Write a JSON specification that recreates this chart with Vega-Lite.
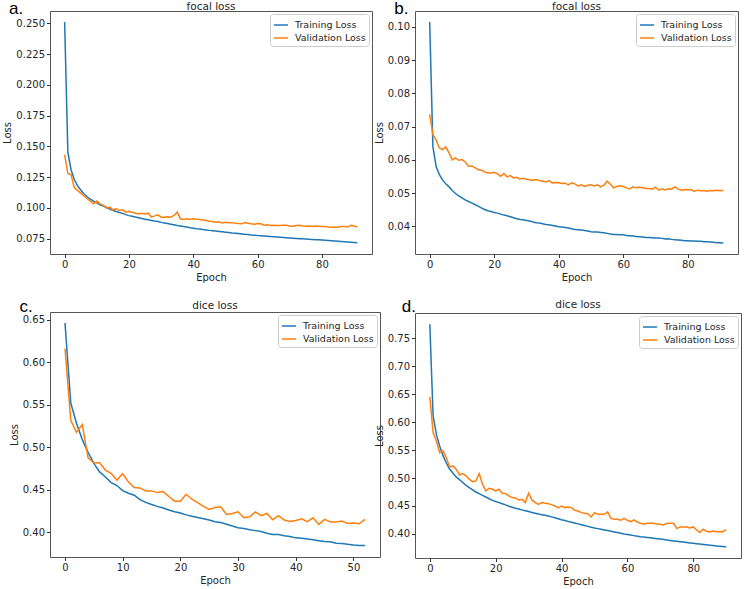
{
"$schema": "https://vega.github.io/schema/vega-lite/v6.json",
"padding": {"left": 2, "top": -1, "right": 0, "bottom": 0},
"background": "white",
"datasets": {
"a": [
{"epoch":0,"train":0.251,"val":0.1431},{"epoch":1,"train":0.145,"val":0.1279},{"epoch":2,"train":0.131,"val":0.127},{"epoch":3,"train":0.123,"val":0.1164},{"epoch":4,"train":0.118,"val":0.1142},{"epoch":5,"train":0.1145,"val":0.112},{"epoch":6,"train":0.1115,"val":0.1096},{"epoch":7,"train":0.109,"val":0.1074},{"epoch":8,"train":0.107,"val":0.1055},{"epoch":9,"train":0.1055,"val":0.1033},
{"epoch":10,"train":0.104,"val":0.1055},{"epoch":11,"train":0.1025,"val":0.1033},{"epoch":12,"train":0.1015,"val":0.102},{"epoch":13,"train":0.1005,"val":0.0998},{"epoch":14,"train":0.099,"val":0.1006},{"epoch":15,"train":0.098,"val":0.0984},{"epoch":16,"train":0.097,"val":0.0992},{"epoch":17,"train":0.0962,"val":0.0979},{"epoch":18,"train":0.0955,"val":0.0984},{"epoch":19,"train":0.0945,"val":0.0965},
{"epoch":20,"train":0.0937,"val":0.0973},{"epoch":21,"train":0.0932,"val":0.0965},{"epoch":22,"train":0.0925,"val":0.0957},{"epoch":23,"train":0.092,"val":0.0951},{"epoch":24,"train":0.0913,"val":0.0957},{"epoch":25,"train":0.0908,"val":0.0951},{"epoch":26,"train":0.0903,"val":0.0957},{"epoch":27,"train":0.0898,"val":0.0924},{"epoch":28,"train":0.0893,"val":0.0935},{"epoch":29,"train":0.0889,"val":0.0943},
{"epoch":30,"train":0.0882,"val":0.0924},{"epoch":31,"train":0.0877,"val":0.0924},{"epoch":32,"train":0.0872,"val":0.0927},{"epoch":33,"train":0.0867,"val":0.0924},{"epoch":34,"train":0.0862,"val":0.0938},{"epoch":35,"train":0.0857,"val":0.0965},{"epoch":36,"train":0.0853,"val":0.0911},{"epoch":37,"train":0.0848,"val":0.0905},{"epoch":38,"train":0.0844,"val":0.0911},{"epoch":39,"train":0.0839,"val":0.0905},
{"epoch":40,"train":0.0835,"val":0.0911},{"epoch":41,"train":0.0831,"val":0.0908},{"epoch":42,"train":0.0828,"val":0.0905},{"epoch":43,"train":0.0824,"val":0.0902},{"epoch":44,"train":0.0821,"val":0.0897},{"epoch":45,"train":0.0817,"val":0.0891},{"epoch":46,"train":0.0814,"val":0.0889},{"epoch":47,"train":0.0811,"val":0.0883},{"epoch":48,"train":0.0808,"val":0.0886},{"epoch":49,"train":0.0805,"val":0.0878},
{"epoch":50,"train":0.0802,"val":0.0883},{"epoch":51,"train":0.0799,"val":0.088},{"epoch":52,"train":0.0796,"val":0.088},{"epoch":53,"train":0.0794,"val":0.0875},{"epoch":54,"train":0.0791,"val":0.0872},{"epoch":55,"train":0.0788,"val":0.087},{"epoch":56,"train":0.0785,"val":0.088},{"epoch":57,"train":0.0783,"val":0.0875},{"epoch":58,"train":0.078,"val":0.087},{"epoch":59,"train":0.0778,"val":0.0867},
{"epoch":60,"train":0.0775,"val":0.0872},{"epoch":61,"train":0.0773,"val":0.087},{"epoch":62,"train":0.0771,"val":0.0859},{"epoch":63,"train":0.0769,"val":0.0862},{"epoch":64,"train":0.0767,"val":0.0856},{"epoch":65,"train":0.0765,"val":0.0859},{"epoch":66,"train":0.0763,"val":0.0856},{"epoch":67,"train":0.0761,"val":0.0856},{"epoch":68,"train":0.0759,"val":0.0859},{"epoch":69,"train":0.0757,"val":0.0859},
{"epoch":70,"train":0.0755,"val":0.0851},{"epoch":71,"train":0.0753,"val":0.0851},{"epoch":72,"train":0.0751,"val":0.0856},{"epoch":73,"train":0.0749,"val":0.0859},{"epoch":74,"train":0.0748,"val":0.0853},{"epoch":75,"train":0.0746,"val":0.0851},{"epoch":76,"train":0.0744,"val":0.0853},{"epoch":77,"train":0.0743,"val":0.0848},{"epoch":78,"train":0.0741,"val":0.0853},{"epoch":79,"train":0.074,"val":0.0851},
{"epoch":80,"train":0.0738,"val":0.0848},{"epoch":81,"train":0.0736,"val":0.0848},{"epoch":82,"train":0.0734,"val":0.0845},{"epoch":83,"train":0.0732,"val":0.0843},{"epoch":84,"train":0.073,"val":0.0843},{"epoch":85,"train":0.0728,"val":0.0845},{"epoch":86,"train":0.0726,"val":0.0848},{"epoch":87,"train":0.0724,"val":0.0848},{"epoch":88,"train":0.0722,"val":0.0845},{"epoch":89,"train":0.072,"val":0.0859},
{"epoch":90,"train":0.0718,"val":0.0853},{"epoch":91,"train":0.0716,"val":0.0845}
],
"b": [
{"epoch":0,"train":0.1015,"val":0.0737},{"epoch":1,"train":0.064,"val":0.0676},{"epoch":2,"train":0.058,"val":0.066},{"epoch":3,"train":0.0556,"val":0.0636},{"epoch":4,"train":0.054,"val":0.0631},{"epoch":5,"train":0.0528,"val":0.0639},{"epoch":6,"train":0.0519,"val":0.0621},{"epoch":7,"train":0.0508,"val":0.06},{"epoch":8,"train":0.0499,"val":0.0606},{"epoch":9,"train":0.0492,"val":0.0599},
{"epoch":10,"train":0.0486,"val":0.0601},{"epoch":11,"train":0.048,"val":0.0594},{"epoch":12,"train":0.0475,"val":0.0581},{"epoch":13,"train":0.0471,"val":0.0582},{"epoch":14,"train":0.0466,"val":0.0577},{"epoch":15,"train":0.0461,"val":0.0571},{"epoch":16,"train":0.0456,"val":0.0569},{"epoch":17,"train":0.0451,"val":0.0564},{"epoch":18,"train":0.0447,"val":0.0561},{"epoch":19,"train":0.0445,"val":0.0561},
{"epoch":20,"train":0.0442,"val":0.0563},{"epoch":21,"train":0.044,"val":0.0558},{"epoch":22,"train":0.0437,"val":0.0551},{"epoch":23,"train":0.0434,"val":0.0559},{"epoch":24,"train":0.0432,"val":0.0549},{"epoch":25,"train":0.0429,"val":0.0553},{"epoch":26,"train":0.0426,"val":0.0546},{"epoch":27,"train":0.0423,"val":0.0548},{"epoch":28,"train":0.0421,"val":0.0543},{"epoch":29,"train":0.042,"val":0.0545},
{"epoch":30,"train":0.0418,"val":0.0542},{"epoch":31,"train":0.0416,"val":0.054},{"epoch":32,"train":0.0413,"val":0.0539},{"epoch":33,"train":0.0411,"val":0.0541},{"epoch":34,"train":0.041,"val":0.0538},{"epoch":35,"train":0.0408,"val":0.0536},{"epoch":36,"train":0.0406,"val":0.0534},{"epoch":37,"train":0.0405,"val":0.0538},{"epoch":38,"train":0.0403,"val":0.0531},{"epoch":39,"train":0.0401,"val":0.0532},
{"epoch":40,"train":0.0399,"val":0.0531},{"epoch":41,"train":0.0398,"val":0.0529},{"epoch":42,"train":0.0397,"val":0.053},{"epoch":43,"train":0.0395,"val":0.0525},{"epoch":44,"train":0.0393,"val":0.0531},{"epoch":45,"train":0.0391,"val":0.0528},{"epoch":46,"train":0.039,"val":0.0522},{"epoch":47,"train":0.0389,"val":0.0525},{"epoch":48,"train":0.0388,"val":0.052},{"epoch":49,"train":0.0386,"val":0.0524},
{"epoch":50,"train":0.0384,"val":0.0525},{"epoch":51,"train":0.0383,"val":0.0522},{"epoch":52,"train":0.0383,"val":0.0525},{"epoch":53,"train":0.0382,"val":0.0519},{"epoch":54,"train":0.0381,"val":0.0524},{"epoch":55,"train":0.0379,"val":0.0536},{"epoch":56,"train":0.0377,"val":0.0527},{"epoch":57,"train":0.0376,"val":0.0516},{"epoch":58,"train":0.0376,"val":0.052},{"epoch":59,"train":0.0375,"val":0.0522},
{"epoch":60,"train":0.0375,"val":0.052},{"epoch":61,"train":0.0373,"val":0.0516},{"epoch":62,"train":0.0372,"val":0.0513},{"epoch":63,"train":0.0371,"val":0.0519},{"epoch":64,"train":0.037,"val":0.0516},{"epoch":65,"train":0.0369,"val":0.0518},{"epoch":66,"train":0.0368,"val":0.0516},{"epoch":67,"train":0.0367,"val":0.0514},{"epoch":68,"train":0.0367,"val":0.0514},{"epoch":69,"train":0.0366,"val":0.0512},
{"epoch":70,"train":0.0365,"val":0.0518},{"epoch":71,"train":0.0365,"val":0.0509},{"epoch":72,"train":0.0364,"val":0.0513},{"epoch":73,"train":0.0362,"val":0.051},{"epoch":74,"train":0.0363,"val":0.0513},{"epoch":75,"train":0.0361,"val":0.0512},{"epoch":76,"train":0.036,"val":0.0519},{"epoch":77,"train":0.0359,"val":0.0512},{"epoch":78,"train":0.0358,"val":0.0509},{"epoch":79,"train":0.0357,"val":0.0511},
{"epoch":80,"train":0.0357,"val":0.051},{"epoch":81,"train":0.0356,"val":0.0511},{"epoch":82,"train":0.0356,"val":0.0505},{"epoch":83,"train":0.0355,"val":0.0509},{"epoch":84,"train":0.0355,"val":0.0507},{"epoch":85,"train":0.0354,"val":0.0508},{"epoch":86,"train":0.0354,"val":0.0506},{"epoch":87,"train":0.0353,"val":0.0508},{"epoch":88,"train":0.0352,"val":0.0507},{"epoch":89,"train":0.0351,"val":0.0509},
{"epoch":90,"train":0.0351,"val":0.0507},{"epoch":91,"train":0.035,"val":0.0509}
],
"c": [
{"epoch":0,"train":0.646,"val":0.6161},{"epoch":1,"train":0.552,"val":0.5316},{"epoch":2,"train":0.528,"val":0.5176},{"epoch":3,"train":0.509,"val":0.5266},{"epoch":4,"train":0.494,"val":0.4876},{"epoch":5,"train":0.481,"val":0.4818},{"epoch":6,"train":0.471,"val":0.4818},{"epoch":7,"train":0.465,"val":0.4732},{"epoch":8,"train":0.4585,"val":0.4693},{"epoch":9,"train":0.455,"val":0.4615},
{"epoch":10,"train":0.449,"val":0.4689},{"epoch":11,"train":0.446,"val":0.4592},{"epoch":12,"train":0.4436,"val":0.4526},{"epoch":13,"train":0.4385,"val":0.4522},{"epoch":14,"train":0.4352,"val":0.4487},{"epoch":15,"train":0.4328,"val":0.4487},{"epoch":16,"train":0.4305,"val":0.4467},{"epoch":17,"train":0.4285,"val":0.4479},{"epoch":18,"train":0.4262,"val":0.4421},{"epoch":19,"train":0.4242,"val":0.4366},
{"epoch":20,"train":0.4228,"val":0.4366},{"epoch":21,"train":0.4205,"val":0.4448},{"epoch":22,"train":0.419,"val":0.4389},{"epoch":23,"train":0.4175,"val":0.435},{"epoch":24,"train":0.416,"val":0.4304},{"epoch":25,"train":0.4145,"val":0.4269},{"epoch":26,"train":0.4125,"val":0.4292},{"epoch":27,"train":0.4115,"val":0.43},{"epoch":28,"train":0.4095,"val":0.421},{"epoch":29,"train":0.4075,"val":0.4222},
{"epoch":30,"train":0.4055,"val":0.4241},{"epoch":31,"train":0.4045,"val":0.4171},{"epoch":32,"train":0.403,"val":0.4183},{"epoch":33,"train":0.402,"val":0.4241},{"epoch":34,"train":0.401,"val":0.4195},{"epoch":35,"train":0.399,"val":0.4222},{"epoch":36,"train":0.3975,"val":0.4148},{"epoch":37,"train":0.3975,"val":0.4195},{"epoch":38,"train":0.396,"val":0.4144},{"epoch":39,"train":0.395,"val":0.4128},
{"epoch":40,"train":0.3935,"val":0.414},{"epoch":41,"train":0.393,"val":0.416},{"epoch":42,"train":0.3922,"val":0.4125},{"epoch":43,"train":0.3912,"val":0.4171},{"epoch":44,"train":0.3902,"val":0.4093},{"epoch":45,"train":0.3893,"val":0.4152},{"epoch":46,"train":0.3888,"val":0.4121},{"epoch":47,"train":0.3872,"val":0.4121},{"epoch":48,"train":0.387,"val":0.4132},{"epoch":49,"train":0.386,"val":0.4105},
{"epoch":50,"train":0.3852,"val":0.4109},{"epoch":51,"train":0.3846,"val":0.4101},{"epoch":52,"train":0.3845,"val":0.4152}
],
"d": [
{"epoch":0,"train":0.775,"val":0.645},{"epoch":1,"train":0.611,"val":0.5812},{"epoch":2,"train":0.578,"val":0.5663},{"epoch":3,"train":0.557,"val":0.5455},{"epoch":4,"train":0.54,"val":0.5485},{"epoch":5,"train":0.527,"val":0.5365},{"epoch":6,"train":0.516,"val":0.5198},{"epoch":7,"train":0.509,"val":0.5216},{"epoch":8,"train":0.502,"val":0.5157},{"epoch":9,"train":0.497,"val":0.5055},
{"epoch":10,"train":0.492,"val":0.5079},{"epoch":11,"train":0.487,"val":0.5037},{"epoch":12,"train":0.483,"val":0.4978},{"epoch":13,"train":0.479,"val":0.4936},{"epoch":14,"train":0.475,"val":0.4948},{"epoch":15,"train":0.472,"val":0.5079},{"epoch":16,"train":0.469,"val":0.4888},{"epoch":17,"train":0.466,"val":0.4769},{"epoch":18,"train":0.463,"val":0.4817},{"epoch":19,"train":0.46,"val":0.4799},
{"epoch":20,"train":0.458,"val":0.4769},{"epoch":21,"train":0.456,"val":0.4799},{"epoch":22,"train":0.454,"val":0.4727},{"epoch":23,"train":0.452,"val":0.4721},{"epoch":24,"train":0.4495,"val":0.468},{"epoch":25,"train":0.4477,"val":0.465},{"epoch":26,"train":0.446,"val":0.4644},{"epoch":27,"train":0.4445,"val":0.4608},{"epoch":28,"train":0.443,"val":0.462},{"epoch":29,"train":0.4415,"val":0.456},
{"epoch":30,"train":0.44,"val":0.4727},{"epoch":31,"train":0.4385,"val":0.4608},{"epoch":32,"train":0.437,"val":0.456},{"epoch":33,"train":0.4355,"val":0.453},{"epoch":34,"train":0.4345,"val":0.456},{"epoch":35,"train":0.4334,"val":0.4548},{"epoch":36,"train":0.432,"val":0.4542},{"epoch":37,"train":0.4305,"val":0.4524},{"epoch":38,"train":0.429,"val":0.45},{"epoch":39,"train":0.4272,"val":0.4465},
{"epoch":40,"train":0.4255,"val":0.45},{"epoch":41,"train":0.424,"val":0.4471},{"epoch":42,"train":0.4225,"val":0.4483},{"epoch":43,"train":0.421,"val":0.4471},{"epoch":44,"train":0.4195,"val":0.4423},{"epoch":45,"train":0.418,"val":0.4411},{"epoch":46,"train":0.4165,"val":0.4381},{"epoch":47,"train":0.415,"val":0.4369},{"epoch":48,"train":0.4135,"val":0.4363},{"epoch":49,"train":0.412,"val":0.4304},
{"epoch":50,"train":0.4105,"val":0.4381},{"epoch":51,"train":0.4095,"val":0.4351},{"epoch":52,"train":0.4085,"val":0.4351},{"epoch":53,"train":0.4072,"val":0.4351},{"epoch":54,"train":0.406,"val":0.4393},{"epoch":55,"train":0.4048,"val":0.4278},{"epoch":56,"train":0.4036,"val":0.4262},{"epoch":57,"train":0.4025,"val":0.4262},{"epoch":58,"train":0.4012,"val":0.4244},{"epoch":59,"train":0.4,"val":0.4278},
{"epoch":60,"train":0.399,"val":0.4244},{"epoch":61,"train":0.398,"val":0.422},{"epoch":62,"train":0.397,"val":0.425},{"epoch":63,"train":0.396,"val":0.4214},{"epoch":64,"train":0.395,"val":0.419},{"epoch":65,"train":0.3945,"val":0.4173},{"epoch":66,"train":0.3937,"val":0.419},{"epoch":67,"train":0.393,"val":0.419},{"epoch":68,"train":0.3922,"val":0.419},{"epoch":69,"train":0.3915,"val":0.4179},
{"epoch":70,"train":0.3908,"val":0.4173},{"epoch":71,"train":0.39,"val":0.4161},{"epoch":72,"train":0.3892,"val":0.419},{"epoch":73,"train":0.3883,"val":0.419},{"epoch":74,"train":0.3876,"val":0.419},{"epoch":75,"train":0.3869,"val":0.4095},{"epoch":76,"train":0.3862,"val":0.4125},{"epoch":77,"train":0.3855,"val":0.4125},{"epoch":78,"train":0.3848,"val":0.4125},{"epoch":79,"train":0.384,"val":0.4107},
{"epoch":80,"train":0.3833,"val":0.4125},{"epoch":81,"train":0.3826,"val":0.4071},{"epoch":82,"train":0.3819,"val":0.4024},{"epoch":83,"train":0.3812,"val":0.4083},{"epoch":84,"train":0.3805,"val":0.4047},{"epoch":85,"train":0.3798,"val":0.4035},{"epoch":86,"train":0.3792,"val":0.4053},{"epoch":87,"train":0.3786,"val":0.4041},{"epoch":88,"train":0.378,"val":0.4045},{"epoch":89,"train":0.3774,"val":0.4041},
{"epoch":90,"train":0.3767,"val":0.4077}
],
"labels": [{"a": "a.", "b": "b.", "c": "c.", "d": "d."}]
},
"columns": 2,
"align": "none",
"bounds": "full",
"spacing": {"row": 14, "column": -8},
"resolve": {"scale": {"x": "independent", "y": "independent", "color": "independent"}, "legend": {"color": "independent"}},
"concat": [
{
 "width": 322, "height": 243,
 "title": {"text": "focal loss"},
 "layer": [
  {
   "data": {"name": "a"},
   "transform": [{"fold": ["train", "val"], "as": ["series", "loss"]}],
   "mark": {"type": "line", "strokeWidth": 1.5},
   "encoding": {
    "x": {"field": "epoch", "type": "quantitative", "scale": {"domain": [-4.55, 95.55], "nice": false, "zero": false}, "axis": {"values": [0, 20, 40, 60, 80], "title": "Epoch", "labelOverlap": false, "tickCount": 20}},
    "y": {"field": "loss", "type": "quantitative", "scale": {"domain": [0.0625, 0.26], "nice": false, "zero": false}, "axis": {"values": [0.075, 0.1, 0.125, 0.15, 0.175, 0.2, 0.225, 0.25], "format": ".3f", "title": "Loss", "labelOverlap": false, "tickCount": 20}},
    "color": {"field": "series", "type": "nominal", "scale": {"domain": ["train", "val"], "range": ["#1f77b4", "#ff7f0e"]}, "legend": {"labelExpr": "datum.label == 'train' ? 'Training Loss' : 'Validation Loss'"}}
   }
  },
  {
   "data": {"name": "labels"},
   "mark": {"type": "text", "font": "Liberation Sans", "fontSize": 17, "align": "left", "baseline": "alphabetic", "color": "black"},
   "encoding": {"text": {"field": "a"}, "x": {"datum": -17.3}, "y": {"datum": 0.2576}}
  }
 ]
},
{
 "width": 323, "height": 243,
 "title": {"text": "focal loss"},
 "layer": [
  {
   "data": {"name": "b"},
   "transform": [{"fold": ["train", "val"], "as": ["series", "loss"]}],
   "mark": {"type": "line", "strokeWidth": 1.5},
   "encoding": {
    "x": {"field": "epoch", "type": "quantitative", "scale": {"domain": [-4.55, 95.55], "nice": false, "zero": false}, "axis": {"values": [0, 20, 40, 60, 80], "title": "Epoch", "labelOverlap": false, "tickCount": 20}},
    "y": {"field": "loss", "type": "quantitative", "scale": {"domain": [0.0317, 0.1048], "nice": false, "zero": false}, "axis": {"values": [0.04, 0.05, 0.06, 0.07, 0.08, 0.09, 0.1], "format": ".2f", "title": "Loss", "labelOverlap": false, "tickCount": 20}},
    "color": {"field": "series", "type": "nominal", "scale": {"domain": ["train", "val"], "range": ["#1f77b4", "#ff7f0e"]}, "legend": {"labelExpr": "datum.label == 'train' ? 'Training Loss' : 'Validation Loss'"}}
   }
  },
  {
   "data": {"name": "labels"},
   "mark": {"type": "text", "font": "Liberation Sans", "fontSize": 17, "align": "left", "baseline": "alphabetic", "color": "black"},
   "encoding": {"text": {"field": "b"}, "x": {"datum": -11.0}, "y": {"datum": 0.1039}}
  }
 ]
},
{
 "width": 330, "height": 245,
 "title": {"text": "dice loss"},
 "layer": [
  {
   "data": {"name": "c"},
   "transform": [{"fold": ["train", "val"], "as": ["series", "loss"]}],
   "mark": {"type": "line", "strokeWidth": 1.5},
   "encoding": {
    "x": {"field": "epoch", "type": "quantitative", "scale": {"domain": [-2.6, 54.6], "nice": false, "zero": false}, "axis": {"values": [0, 10, 20, 30, 40, 50], "title": "Epoch", "labelOverlap": false, "tickCount": 20}},
    "y": {"field": "loss", "type": "quantitative", "scale": {"domain": [0.371, 0.659], "nice": false, "zero": false}, "axis": {"values": [0.4, 0.45, 0.5, 0.55, 0.6, 0.65], "format": ".2f", "title": "Loss", "labelOverlap": false, "tickCount": 20}},
    "color": {"field": "series", "type": "nominal", "scale": {"domain": ["train", "val"], "range": ["#1f77b4", "#ff7f0e"]}, "legend": {"labelExpr": "datum.label == 'train' ? 'Training Loss' : 'Validation Loss'"}}
   }
  },
  {
   "data": {"name": "labels"},
   "mark": {"type": "text", "font": "Liberation Sans", "fontSize": 17, "align": "left", "baseline": "alphabetic", "color": "black"},
   "encoding": {"text": {"field": "c"}, "x": {"datum": -7.9}, "y": {"datum": 0.659}}
  }
 ]
},
{
 "width": 326, "height": 245,
 "title": {"text": "dice loss"},
 "layer": [
  {
   "data": {"name": "d"},
   "transform": [{"fold": ["train", "val"], "as": ["series", "loss"]}],
   "mark": {"type": "line", "strokeWidth": 1.5},
   "encoding": {
    "x": {"field": "epoch", "type": "quantitative", "scale": {"domain": [-4.5, 94.5], "nice": false, "zero": false}, "axis": {"values": [0, 20, 40, 60, 80], "title": "Epoch", "labelOverlap": false, "tickCount": 20}},
    "y": {"field": "loss", "type": "quantitative", "scale": {"domain": [0.357, 0.795], "nice": false, "zero": false}, "axis": {"values": [0.4, 0.45, 0.5, 0.55, 0.6, 0.65, 0.7, 0.75], "format": ".2f", "title": "Loss", "labelOverlap": false, "tickCount": 20}},
    "color": {"field": "series", "type": "nominal", "scale": {"domain": ["train", "val"], "range": ["#1f77b4", "#ff7f0e"]}, "legend": {"labelExpr": "datum.label == 'train' ? 'Training Loss' : 'Validation Loss'"}}
   }
  },
  {
   "data": {"name": "labels"},
   "mark": {"type": "text", "font": "Liberation Sans", "fontSize": 17, "align": "left", "baseline": "alphabetic", "color": "black"},
   "encoding": {"text": {"field": "d"}, "x": {"datum": -8.5}, "y": {"datum": 0.7973}}
  }
 ]
}
],
"config": {
 "font": "DejaVu Sans",
 "view": {"stroke": "#555555", "strokeWidth": 1},
 "title": {"fontSize": 10.5, "fontWeight": "normal", "color": "#262626", "offset": -13, "frame": "group", "anchor": "middle"},
 "axis": {"domain": false, "grid": false, "labelOverlap": false, "tickColor": "#333333", "tickSize": 3.5, "labelFontSize": 10, "titleFontSize": 10, "labelColor": "#262626", "titleColor": "#262626", "titleFontWeight": "normal", "labelPadding": 2, "titlePadding": 3},
 "legend": {"orient": "top-right", "offset": 3, "title": null, "strokeColor": "#cccccc", "fillColor": "white", "cornerRadius": 3, "padding": 3, "symbolType": "stroke", "symbolStrokeWidth": 1.5, "symbolSize": 200, "labelFontSize": 9.5, "labelColor": "#262626", "rowPadding": 0, "labelOffset": 6}
}
}
